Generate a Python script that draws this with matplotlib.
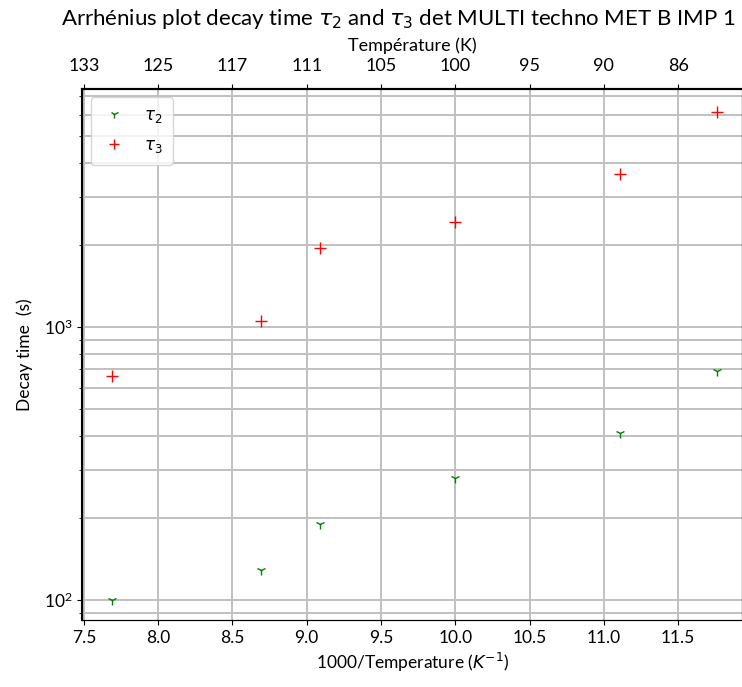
import matplotlib
matplotlib.use("Agg")
import matplotlib.pyplot as plt
import numpy as np

plt.rcParams['font.family'] = ['Lato', 'DejaVu Sans']
plt.rcParams['mathtext.fontset'] = 'dejavusans'

# Measurement temperatures (K) and fitted decay times (s)
temperatures = [130, 115, 110, 100, 90, 85]
tau2 = [100, 129, 190, 280, 409, 690]
tau3 = [661, 1052, 1946, 2426, 3633, 6140]

inv_t = [1000.0 / t for t in temperatures]
bottom_ticks = [7.5, 8.0, 8.5, 9.0, 9.5, 10.0, 10.5, 11.0, 11.5]

fig = plt.figure(figsize=(7.42, 6.87), dpi=100)
ax = fig.add_axes([0.111, 0.0975, 0.889, 0.773])

ax.plot(inv_t, tau2, linestyle='none', marker='1', color='green',
        markersize=7, label=r'$\tau_2$')
ax.plot(inv_t, tau3, linestyle='none', marker='+', color='red',
        markersize=8, label=r'$\tau_3$')

ax.set_yscale('log')
ax.set_xlim(7.49, 11.93)
ax.set_ylim(84.5, 7450)
ax.set_xticks(bottom_ticks)
ax.set_xticklabels([f"{v:.1f}" for v in bottom_ticks])
ax.grid(True, which='major', color='#c0c0c0', linewidth=1.4)
ax.grid(True, which='minor', axis='y', color='#c0c0c0', linewidth=1.4)
ax.tick_params(labelsize=12.5)
ax.set_xlabel(r'1000/Temperature ($K^{-1}$)', fontsize=12.5)
ax.set_ylabel('Decay time  (s)', fontsize=12.5, labelpad=8)
for side in ('left', 'top'):
    ax.spines[side].set_linewidth(1.5)

ax.legend(loc='upper left', fontsize=12, handletextpad=1.0,
          handlelength=1.6, borderpad=0.6, labelspacing=0.7,
          markerscale=0.9)

# Secondary axis labelled in kelvin at the same tick positions
top = ax.twiny()
top.set_xlim(ax.get_xlim())
top.set_xticks(bottom_ticks)
top.set_xticklabels([str(int(1000 / v)) for v in bottom_ticks])
top.tick_params(labelsize=13, pad=7)
top.set_xlabel('Température (K)', fontsize=13, labelpad=5)
top.spines['top'].set_linewidth(1.5)

fig.suptitle(r'Arrhénius plot decay time $\tau_2$ and $\tau_3$ det MULTI techno MET B IMP 1',
             fontsize=16, y=0.99, x=0.537)

fig.savefig('out.png', dpi=100)
